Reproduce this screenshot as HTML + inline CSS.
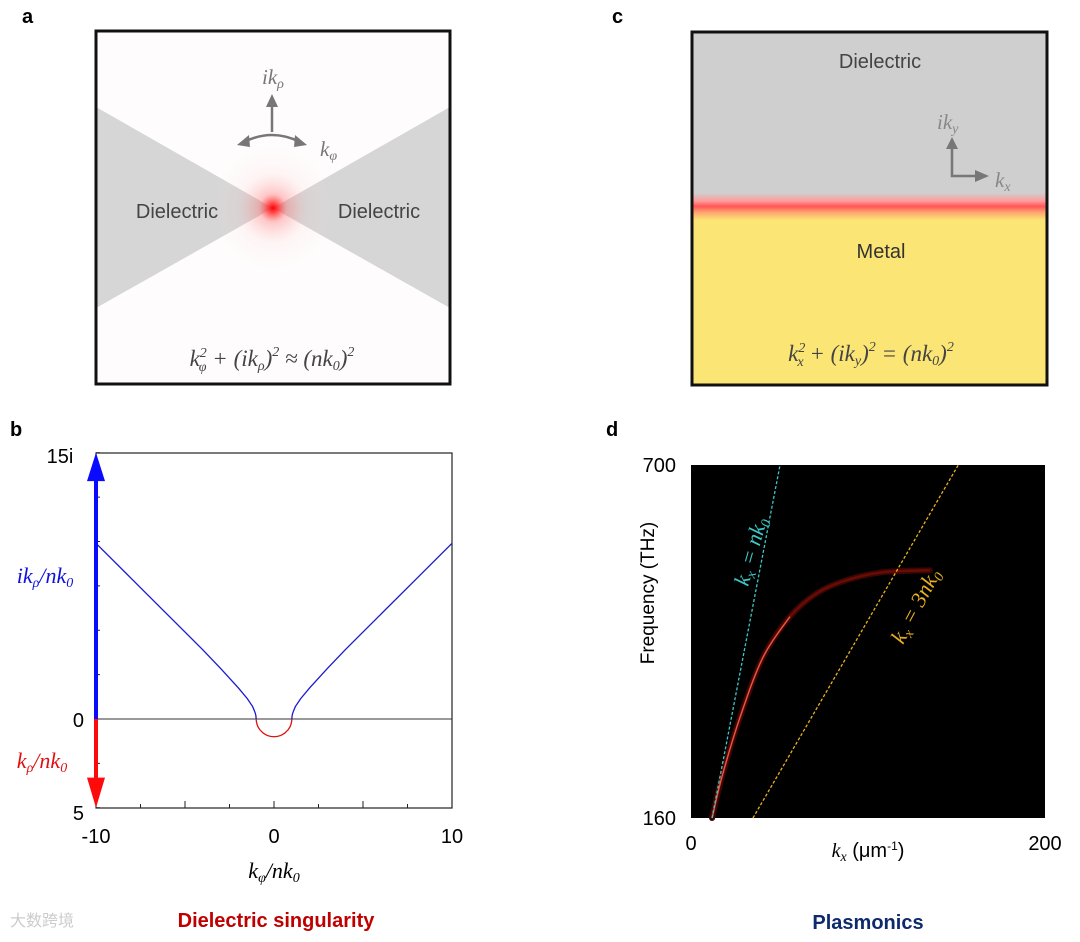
<!DOCTYPE html>
<html><head><meta charset="utf-8"><style>
body{margin:0;background:#fff;width:1080px;height:942px;overflow:hidden;font-family:"Liberation Sans",sans-serif}
svg{position:absolute;left:0;top:0}
.m{font-family:"Liberation Serif","DejaVu Serif",serif;font-style:italic}
</style></head><body>
<svg width="1080" height="942">
<defs>
<radialGradient id="glow" cx="273" cy="208" r="70" gradientUnits="userSpaceOnUse">
<stop offset="0" stop-color="#ff0000" stop-opacity="1"/>
<stop offset="0.06" stop-color="#ff2020" stop-opacity="0.85"/>
<stop offset="0.2" stop-color="#ff6060" stop-opacity="0.35"/>
<stop offset="0.5" stop-color="#ffb0b0" stop-opacity="0.1"/>
<stop offset="1" stop-color="#ffffff" stop-opacity="0"/>
</radialGradient>
<linearGradient id="line" x1="0" y1="0" x2="0" y2="1">
<stop offset="0" stop-color="#cfcfcf"/>
<stop offset="0.3" stop-color="#ff9a9a"/>
<stop offset="0.5" stop-color="#ff5555"/>
<stop offset="0.7" stop-color="#ffa070"/>
<stop offset="1" stop-color="#fbe574"/>
</linearGradient>
</defs>
<text x="22" y="23" font-size="20" font-weight="bold">a</text>
<g>
<rect x="96" y="31" width="354" height="353" fill="#fefcfc"/>
<polygon points="96,107 273,208 96,308" fill="#d6d6d6"/>
<polygon points="450,107 273,208 450,308" fill="#d6d6d6"/>
<circle cx="273" cy="208" r="70" fill="url(#glow)"/>
<rect x="96" y="31" width="354" height="353" fill="none" stroke="#111" stroke-width="3"/>
<text x="177" y="218" font-size="20" fill="#444" text-anchor="middle">Dielectric</text>
<text x="379" y="218" font-size="20" fill="#444" text-anchor="middle">Dielectric</text>
<g stroke="#777" stroke-width="2.5" fill="#777">
<line x1="272" y1="132" x2="272" y2="104"/>
<polygon points="266,107 278,107 272,94" stroke="none"/>
<path d="M244 142 Q272 128 300 142" fill="none"/>
<polygon points="237,145 249,135 250,147" stroke="none"/>
<polygon points="307,145 295,135 294,147" stroke="none"/>
</g>
<text x="262" y="84" font-size="21" fill="#777" class="m">ik<tspan font-size="14" dy="4">ρ</tspan></text>
<text x="320" y="156" font-size="21" fill="#777" class="m">k<tspan font-size="14" dy="4">φ</tspan></text>
<text x="272" y="366" font-size="23" fill="#444" text-anchor="middle" class="m">k<tspan font-size="14" dy="-9">2</tspan><tspan font-size="14" dx="-8" dy="14">φ</tspan><tspan dy="-5"> + (ik</tspan><tspan font-size="14" dy="4">ρ</tspan><tspan dy="-4">)</tspan><tspan font-size="14" dy="-10">2</tspan><tspan dy="10"> ≈ (nk</tspan><tspan font-size="14" dy="4">0</tspan><tspan dy="-4">)</tspan><tspan font-size="14" dy="-10">2</tspan></text>
</g>
<text x="612" y="23" font-size="20" font-weight="bold">c</text>
<g>
<rect x="692" y="32" width="355" height="172" fill="#cfcfcf"/>
<rect x="692" y="204" width="355" height="181" fill="#fbe574"/>
<rect x="692" y="193" width="355" height="27" fill="url(#line)"/>
<rect x="692" y="32" width="355" height="353" fill="none" stroke="#111" stroke-width="3"/>
<text x="880" y="68" font-size="20" fill="#444" text-anchor="middle">Dielectric</text>
<text x="881" y="258" font-size="20" fill="#333" text-anchor="middle">Metal</text>
<g stroke="#777" stroke-width="2.5" fill="#777">
<polyline points="952,146 952,176 977,176" fill="none"/>
<polygon points="946,149 958,149 952,137" stroke="none"/>
<polygon points="975,170 975,182 989,176" stroke="none"/>
</g>
<text x="937" y="129" font-size="21" fill="#888" class="m">ik<tspan font-size="14" dy="4">y</tspan></text>
<text x="995" y="187" font-size="21" fill="#888" class="m">k<tspan font-size="14" dy="4">x</tspan></text>
<text x="871" y="361" font-size="23" fill="#444" text-anchor="middle" class="m">k<tspan font-size="14" dy="-9">2</tspan><tspan font-size="14" dx="-8" dy="14">x</tspan><tspan dy="-5"> + (ik</tspan><tspan font-size="14" dy="4">y</tspan><tspan dy="-4">)</tspan><tspan font-size="14" dy="-10">2</tspan><tspan dy="10"> = (nk</tspan><tspan font-size="14" dy="4">0</tspan><tspan dy="-4">)</tspan><tspan font-size="14" dy="-10">2</tspan></text>
</g>
<text x="10" y="436" font-size="20" font-weight="bold">b</text>
<g id="chartB"></g>
<text x="60" y="463" font-size="20" text-anchor="middle">15i</text>
<text x="84" y="727" font-size="20" text-anchor="end">0</text>
<text x="84" y="820" font-size="20" text-anchor="end">5</text>
<text x="45" y="583" font-size="22" fill="#1010e0" text-anchor="middle" class="m">ik<tspan font-size="14" dy="4">ρ</tspan><tspan dy="-4">/nk</tspan><tspan font-size="14" dy="4">0</tspan></text>
<text x="42" y="768" font-size="22" fill="#e01010" text-anchor="middle" class="m">k<tspan font-size="14" dy="4">ρ</tspan><tspan dy="-4">/nk</tspan><tspan font-size="14" dy="4">0</tspan></text>
<text x="274" y="878" font-size="22" text-anchor="middle" class="m">k<tspan font-size="14" dy="4">φ</tspan><tspan dy="-4">/nk</tspan><tspan font-size="14" dy="4">0</tspan></text>
<text x="276" y="927" font-size="20" font-weight="bold" fill="#c00000" text-anchor="middle">Dielectric singularity</text>
<text x="10" y="926" font-size="16" fill="#ccc">大数跨境</text>
<text x="606" y="436" font-size="20" font-weight="bold">d</text>
<g id="chartD"></g>
<text x="654" y="593" font-size="19" text-anchor="middle" transform="rotate(-90 654 593)">Frequency (THz)</text>
<text x="868" y="857" font-size="20" text-anchor="middle"><tspan class="m">k</tspan><tspan class="m" font-size="14" dy="4">x</tspan><tspan dy="-4"> (μm</tspan><tspan font-size="12" dy="-7">-1</tspan><tspan dy="7">)</tspan></text>
<text x="868" y="929" font-size="20" font-weight="bold" fill="#0d2a6b" text-anchor="middle">Plasmonics</text>
</svg>
<script>
const NS="http://www.w3.org/2000/svg";
function mk(p,t,a){const e=document.createElementNS(NS,t);for(const k in a)e.setAttribute(k,a[k]);p.appendChild(e);return e;}
function smooth(P){let d='M'+P[0][0]+' '+P[0][1];for(let i=0;i<P.length-1;i++){const p0=P[i-1]||P[i],p1=P[i],p2=P[i+1],p3=P[i+2]||p2;
 d+=' C'+(p1[0]+(p2[0]-p0[0])/6)+' '+(p1[1]+(p2[1]-p0[1])/6)+' '+(p2[0]-(p3[0]-p1[0])/6)+' '+(p2[1]-(p3[1]-p1[1])/6)+' '+p2[0]+' '+p2[1];}return d;}
// ---- chart b data ----
const bKphi=[-10,-8,-6,-4,-3,-2,-1.5,-1.2,-1.1,-1.05,-1.02,-1,1,1.02,1.05,1.1,1.2,1.5,2,3,4,6,8,10];
const bImag=[9.9,7.9,5.9,3.9,2.85,1.75,1.15,0.7,0.46,0.32,0.2,0,0,0.2,0.32,0.46,0.7,1.15,1.75,2.85,3.9,5.9,7.9,9.9];
const bRealX=[-1,-0.99,-0.95,-0.9,-0.8,-0.6,-0.4,-0.2,0,0.2,0.4,0.6,0.8,0.9,0.95,0.99,1];
const bReal=[0,0.14,0.31,0.44,0.6,0.8,0.92,0.98,1,0.98,0.92,0.8,0.6,0.44,0.31,0.14,0];
const bXTicks=[-10,0,10];
(function(){
 const g=document.getElementById('chartB');
 const X=v=>274+v*17.8, Y=v=>719-v*17.75;
 const fr=mk(g,'rect',{x:96,y:453,width:356,height:355,fill:'none',stroke:'#222','stroke-width':1.2});
 
 
 for(let v=-10;v<=10;v+=2.5){const t=mk(g,'line',{x1:X(v),x2:X(v),y1:808,y2:v%5==0?801:804,stroke:'#222'});
  
  }
 for(let v=-5;v<=15;v+=2.5){if(v==0)continue;const t=mk(g,'line',{x1:96,x2:100,y1:Y(v),y2:Y(v),stroke:'#222'});
  
  }
 const z=mk(g,'line',{x1:96,x2:452,y1:Y(0),y2:Y(0),stroke:'#333','stroke-width':1});
 
 
 const n=bKphi.filter(v=>v<0).length;
 const left=bKphi.slice(0,n).map((v,i)=>X(v)+','+Y(bImag[i])).join(' ');
 const right=bKphi.slice(n).map((v,i)=>X(v)+','+Y(bImag[n+i])).join(' ');
 const l1=mk(g,'polyline',{points:left,fill:'none',stroke:'#1a1ad0','stroke-width':1.3});
 
 
 const l2=mk(g,'polyline',{points:right,fill:'none',stroke:'#1a1ad0','stroke-width':1.3});
 
 
 const r=mk(g,'polyline',{points:bRealX.map((v,i)=>X(v)+','+Y(-bReal[i])).join(' '),fill:'none',stroke:'#e01010','stroke-width':1.3});
 
 
 const ab=mk(g,'line',{x1:96,x2:96,y1:Y(0),y2:Y(13.5),stroke:'#0a0aff','stroke-width':4});
 
 
 mk(g,'polygon',{points:`87,${Y(13.4)} 105,${Y(13.4)} 96,${Y(15)}`,fill:'#0a0aff'});
 const ar=mk(g,'line',{x1:96,x2:96,y1:Y(0),y2:Y(-3.5),stroke:'#ff0a0a','stroke-width':4});
 
 
 mk(g,'polygon',{points:`87,${Y(-3.3)} 105,${Y(-3.3)} 96,${Y(-5)}`,fill:'#ff0a0a'});
 bXTicks.forEach(v=>{const t=mk(g,'text',{x:X(v),y:843,'font-size':20,'text-anchor':'middle'});t.textContent=v;
  
  });
})();
// ---- chart d data ----
const dCurveK=[11.9,17.5,27.7,40.7,55.9,71.2,88.1,108.5,135];
const dCurveF=[160,223,314,406,468,504,524,536,539];
const dLight1K=[11.9,50.3];
const dLight1F=[160,700];
const dLight3K=[35,151];
const dLight3F=[160,700];
const dXTicks=[0,200];
const dYTicks=[160,700];
(function(){
 const g=document.getElementById('chartD');
 const X=v=>691+v*354/200, Y=v=>818-(v-160)*353/540;
 const bg=mk(g,'rect',{x:691,y:465,width:354,height:353,fill:'#000'});
 
 
 const P=dCurveK.map((v,i)=>[X(v),Y(dCurveF[i])]);
 const c1=mk(g,'path',{d:smooth(P),fill:'none',stroke:'#3a0603','stroke-width':6,'stroke-linecap':'round'});
 
 
 const c0=mk(g,'path',{d:smooth(P),fill:'none',stroke:'#6a0c06','stroke-width':2.5});
 
 
 const c2=mk(g,'path',{d:smooth(P.slice(0,5)),fill:'none',stroke:'#e85a4a','stroke-width':1.3});
 
 
 const l1=mk(g,'line',{x1:X(dLight1K[0]),y1:Y(dLight1F[0]),x2:X(dLight1K[1]),y2:Y(dLight1F[1]),stroke:'#3cc8c8','stroke-width':1.3,'stroke-dasharray':'3,2'});
 
 
 const l3=mk(g,'line',{x1:X(dLight3K[0]),y1:Y(dLight3F[0]),x2:X(dLight3K[1]),y2:Y(dLight3F[1]),stroke:'#e8b020','stroke-width':1.3,'stroke-dasharray':'3,2'});
 
 
 const t1=mk(g,'text',{x:748,y:587,'font-size':22,fill:'#3cc8c8','class':'m',transform:'rotate(-74 748 587)'});
 t1.innerHTML='k<tspan font-size="14" dy="4">x</tspan><tspan dy="-4"> = nk</tspan><tspan font-size="14" dy="4">0</tspan>';
 
 
 const t3=mk(g,'text',{x:903,y:645,'font-size':22,fill:'#e8b020','class':'m',transform:'rotate(-62 903 645)'});
 t3.innerHTML='k<tspan font-size="14" dy="4">x</tspan><tspan dy="-4"> = 3nk</tspan><tspan font-size="14" dy="4">0</tspan>';
 
 
 dXTicks.forEach(v=>{const t=mk(g,'text',{x:X(v),y:850,'font-size':20,'text-anchor':'middle'});t.textContent=v;
  
  });
 dYTicks.forEach(v=>{const t=mk(g,'text',{x:676,y:Y(v)+7,'font-size':20,'text-anchor':'end'});t.textContent=v;
  
  });
})();
</script>
</body></html>
